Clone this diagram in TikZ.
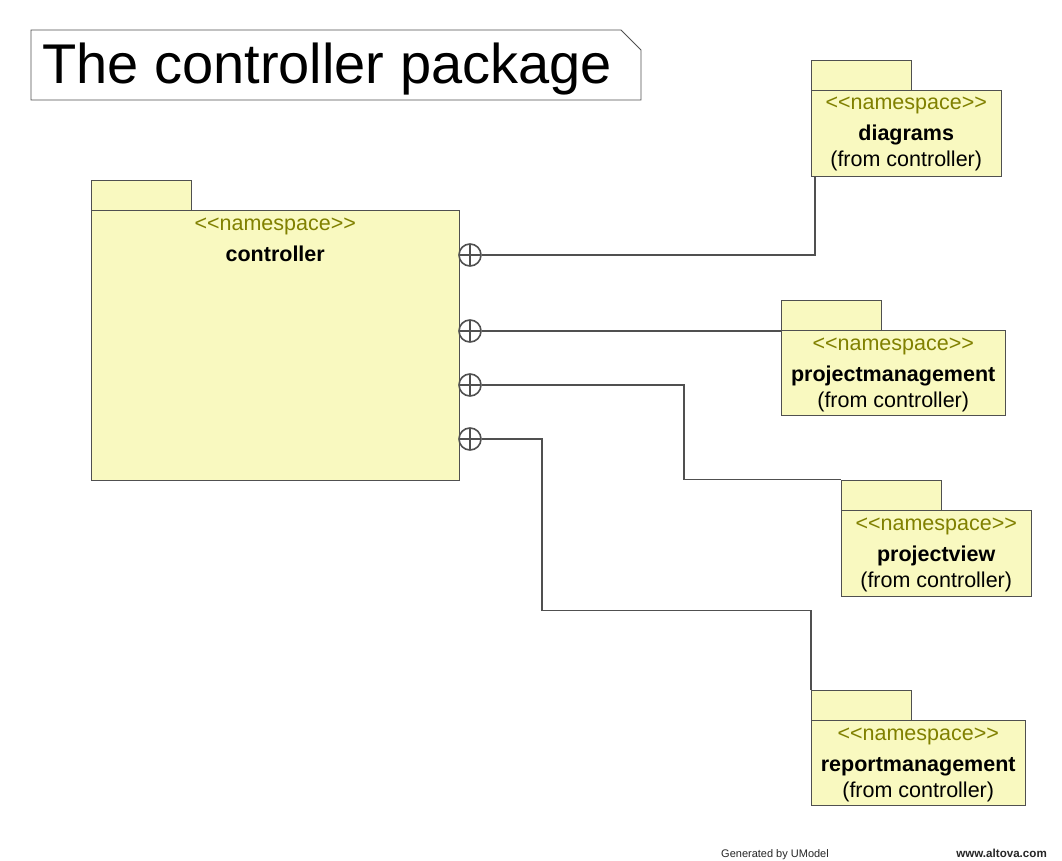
\documentclass[tikz,border=0pt]{standalone}
\usepackage{fontspec}
\setmainfont{Liberation Sans}
\usetikzlibrary{calc,positioning}
\definecolor{pkgfill}{HTML}{F9F9C0}
\definecolor{umlline}{HTML}{505050}
\definecolor{stereo}{HTML}{808000}
\newcommand{\nstag}{<\kern0pt<namespace>\kern0pt>}
\tikzset{
  % one unit is one pixel of the original export, y runs downwards
  pkgbody/.style  = {draw=umlline, fill=pkgfill, inner sep=0pt,
                     anchor=north west},
  pkgtab/.style   = {draw=umlline, fill=pkgfill, inner sep=0pt,
                     minimum width=100pt, minimum height=30pt,
                     anchor=south west},
  stereotxt/.style= {anchor=base, inner sep=0pt, text=stereo,
                     font=\fontsize{21.5}{24}\selectfont},
  pkgname/.style  = {anchor=base, inner sep=0pt,
                     font=\bfseries\fontsize{21.5}{24}\selectfont},
  fromtxt/.style  = {anchor=base, inner sep=0pt,
                     font=\fontsize{21.5}{24}\selectfont},
  nesting/.style  = {circle, draw=umlline, fill=white, line width=1.6pt,
                     minimum size=22pt, inner sep=0pt,
                     path picture={
                       \draw[umlline, line width=1.6pt]
                         (path picture bounding box.north) --
                         (path picture bounding box.south)
                         (path picture bounding box.west) --
                         (path picture bounding box.east);}},
  link/.style     = {draw=umlline, line width=1.6pt},
  notebox/.style  = {draw=umlline, fill=white, line width=0.8pt},
}

\begin{document}
\begin{tikzpicture}[x=1pt, y=-1pt]
    \useasboundingbox[fill=white] (0,0) rectangle (1062,861);

    % diagram title
    \draw[notebox] (31,30) -- (621,30) -- (641,50) -- (641,100) --
                   (31,100) -- cycle;
    \node[anchor=base west, inner sep=0pt,
          font=\fontsize{56}{60}\selectfont] (title) at (42,84)
        {The controller package};

    % the owning package
    \node[pkgbody, minimum width=368pt, minimum height=270pt]
        (controller) at (91,210) {};
    \node[pkgtab] (controller-tab) at (controller.north west) {};
    \node[stereotxt] (controller-st) at ($(controller.north)+(0,20)$)
        {\nstag};
    \node[pkgname] (controller-nm) at ($(controller.north)+(0,51)$)
        {controller};

    % nested packages
    \node[pkgbody, minimum width=190pt, minimum height=86pt]
        (diagrams) at (811,90) {};
    \node[pkgtab] (diagrams-tab) at (diagrams.north west) {};
    \node[stereotxt] (diagrams-st) at ($(diagrams.north)+(0,20)$) {\nstag};
    \node[pkgname] (diagrams-nm) at ($(diagrams.north)+(0,51)$) {diagrams};
    \node[fromtxt] (diagrams-from) at ($(diagrams.north)+(0,77)$)
        {(from controller)};

    \node[pkgbody, minimum width=224pt, minimum height=85pt]
        (projmgmt) at (781,330) {};
    \node[pkgtab] (projmgmt-tab) at (projmgmt.north west) {};
    \node[stereotxt] (projmgmt-st) at ($(projmgmt.north)+(0,20)$) {\nstag};
    \node[pkgname] (projmgmt-nm) at ($(projmgmt.north)+(0,51)$)
        {projectmanagement};
    \node[fromtxt] (projmgmt-from) at ($(projmgmt.north)+(0,77)$)
        {(from controller)};

    \node[pkgbody, minimum width=190pt, minimum height=86pt]
        (projview) at (841,510) {};
    \node[pkgtab] (projview-tab) at (projview.north west) {};
    \node[stereotxt] (projview-st) at ($(projview.north)+(0,20)$) {\nstag};
    \node[pkgname] (projview-nm) at ($(projview.north)+(0,51)$)
        {projectview};
    \node[fromtxt] (projview-from) at ($(projview.north)+(0,77)$)
        {(from controller)};

    \node[pkgbody, minimum width=214pt, minimum height=85pt]
        (repmgmt) at (811,720) {};
    \node[pkgtab] (repmgmt-tab) at (repmgmt.north west) {};
    \node[stereotxt] (repmgmt-st) at ($(repmgmt.north)+(0,20)$) {\nstag};
    \node[pkgname] (repmgmt-nm) at ($(repmgmt.north)+(0,51)$)
        {reportmanagement};
    \node[fromtxt] (repmgmt-from) at ($(repmgmt.north)+(0,77)$)
        {(from controller)};

    % containment links, the circle sits on the owner's border
    \node[nesting] (nest1) at (470,255) {};
    \node[nesting] (nest2) at (470,331) {};
    \node[nesting] (nest3) at (470,385) {};
    \node[nesting] (nest4) at (470,439) {};

    \draw[link] (nest1.east) -| ($(diagrams.south west)+(4,0)$);
    \draw[link] (nest2.east) -- (nest2.east -| projmgmt.west);
    \draw[link] (nest3.east) -- ++(202,0) |- (projview-tab.north west);
    \draw[link] (nest4.east) -- ++(60,0)
        |- ($(repmgmt-tab.north west)+(0,-79)$) -- (repmgmt-tab.north west);

    % footer
    \node[anchor=base west, inner sep=0pt, font=\fontsize{11}{13}\selectfont,
          black!85] (gen) at (721,857) {Generated by UModel};
    \node[anchor=base east, inner sep=0pt,
          font=\bfseries\fontsize{11.6}{13}\selectfont, black!85]
        (site) at (1047,857) {www.altova.com};
\end{tikzpicture}
\end{document}
